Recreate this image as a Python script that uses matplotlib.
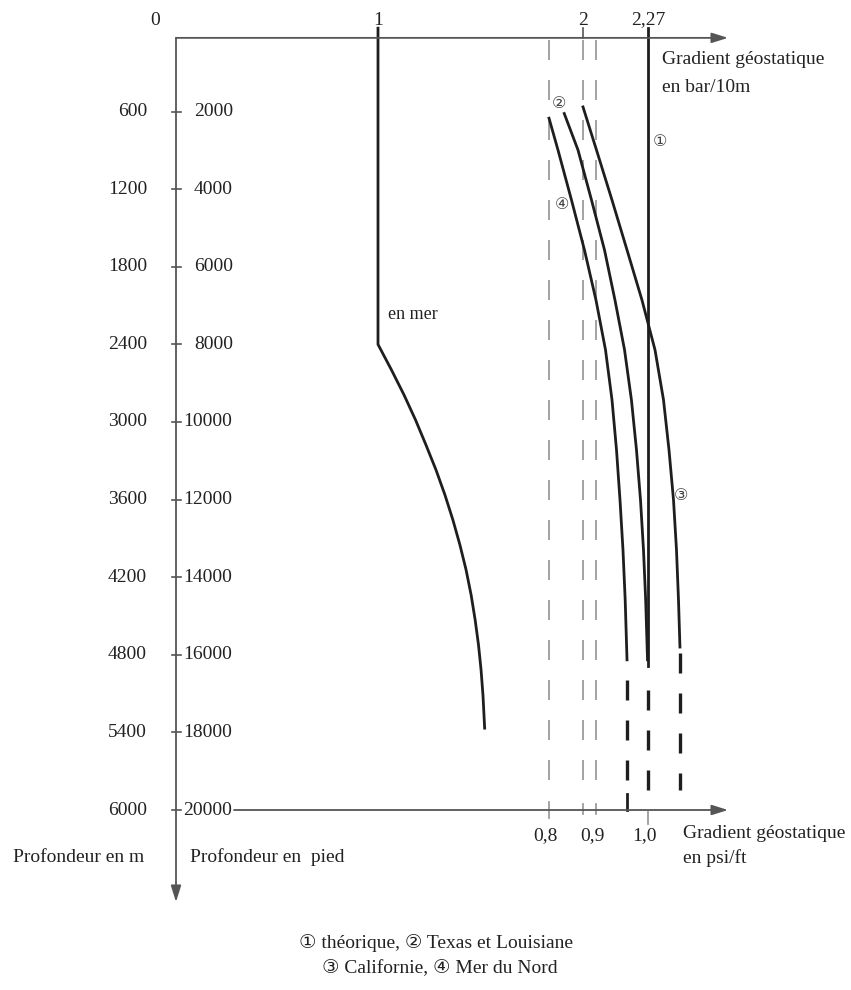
import numpy as np
import matplotlib
matplotlib.use('Agg')
import matplotlib.pyplot as plt

plt.rcParams['font.family'] = ['Liberation Serif', 'DejaVu Sans']
plt.rcParams['lines.scale_dashes'] = False

# ---------------- data ----------------
PSI_TO_BAR = 2.2621  # 1 psi/ft in bar/10m

depth_ft_ticks = [2000, 4000, 6000, 8000, 10000, 12000, 14000, 16000, 18000, 20000]
depth_m_labels = ['600', '1200', '1800', '2400', '3000', '3600', '4200', '4800', '5400', '6000']

top_ticks_bar = [0, 1, 2, 2.262]
top_tick_labels = ['0', '1', '2', '2,27']

bottom_ticks_psi = [0.8, 0.9, 1.0]
bottom_tick_labels = ['0,8', '0,9', '1,0']

# "en mer" curve (bar/10m vs depth ft)
enmer_bar = [1.0, 1.0, 1.064, 1.123, 1.178, 1.227, 1.275, 1.317, 1.355, 1.388,
             1.417, 1.441, 1.460, 1.476, 1.488, 1.497, 1.505]
enmer_ft = [-150, 8000, 8660, 9300, 9950, 10590, 11240, 11880, 12530, 13170,
            13810, 14460, 15100, 15750, 16390, 17040, 17890]

# (1) théorique
theo_bar = [2.262, 2.262]
theo_ft = [-150, 16300]

# (2) Texas et Louisiane
texas_bar = [1.895, 1.972, 2.0235, 2.073, 2.1185, 2.160, 2.190, 2.212, 2.2295, 2.2425, 2.252, 2.260]
texas_ft = [2050, 2990, 4280, 5570, 6860, 8140, 9430, 10720, 12010, 13300, 14590, 16130]

# (3) Californie
calif_bar = [2.0, 2.038, 2.1055, 2.171, 2.236, 2.2925, 2.3295, 2.3534, 2.373, 2.386, 2.3947, 2.401]
calif_ft = [1880, 2990, 4280, 5570, 6860, 8140, 9430, 10720, 12010, 13300, 14590, 15800]

# (4) Mer du Nord
nord_bar = [1.8097, 1.860, 1.9356, 2.0041, 2.0359, 2.0772, 2.1055, 2.1251, 2.1403, 2.1533, 2.1629, 2.1708]
nord_ft = [2170, 2990, 4280, 5570, 6860, 8140, 9430, 10720, 12010, 13300, 14590, 16130]

# dashed extrapolations below 16000 ft
ext_bar = [2.1708, 2.262, 2.401]
ext_start_ft = [16650, 16900, 15950]
ext_end_ft = [19300, 19480, 19480]

# light reference dashed lines
ref_bar = [0.8 * PSI_TO_BAR, 2.0, 0.9 * PSI_TO_BAR]

# ---------------- schematic x scale (piecewise linear) ----------------
bar_knots = np.array([-5.0, 0.0, 1.0, 0.8 * PSI_TO_BAR, 2.0, 0.9 * PSI_TO_BAR, 1.0 * PSI_TO_BAR, 6.0])
px_knots = np.array([176 - 5 * 202, 176, 378, 549, 583, 596, 648, 648 + (6.0 - PSI_TO_BAR) * 230])


def fwd(x):
    return np.interp(x, bar_knots, px_knots)


def inv(p):
    return np.interp(p, px_knots, bar_knots)


W, H = 851, 990
fig = plt.figure(figsize=(W / 100, H / 100), dpi=100)
ax = fig.add_axes([0, 0, 1, 1])
ax.set_xscale('function', functions=(fwd, inv))
ax.set_xlim(inv(0), inv(W))
ax.set_ylim(24639, -876)
ax.axis('off')

axis_col = '#555555'
curve_col = '#1e1e1e'
grey_col = '#9c9c9c'
txt_col = '#222222'
fs = 14

arrow_kw = dict(arrowstyle='-|>,head_length=0.7,head_width=0.22', color=axis_col,
                lw=1.3, shrinkA=0, shrinkB=0, mutation_scale=14)

# axes
x_end = inv(728)
ax.annotate('', xy=(0, 22370), xytext=(0, 100), arrowprops=arrow_kw)
ax.annotate('', xy=(x_end, 100), xytext=(0, 100), arrowprops=arrow_kw)
ax.annotate('', xy=(x_end, 20000), xytext=(inv(234), 20000), arrowprops=arrow_kw)

# depth ticks and labels
for ft, ml in zip(depth_ft_ticks, depth_m_labels):
    ax.plot([inv(172), inv(181)], [ft, ft], color=axis_col, lw=1.2)
    lab = f'{ft}'
    xl = inv(194) if len(lab) == 4 else inv(183)
    ax.text(xl, ft, lab, ha='left', va='center', fontsize=fs, color=txt_col)
    ax.text(inv(147), ft, ml, ha='right', va='center', fontsize=fs, color=txt_col)

# top ticks
for b, lab in zip(top_ticks_bar, top_tick_labels):
    xpos = b if b > 0 else inv(155)
    ax.text(xpos, -360, lab, ha='center', va='center', fontsize=fs, color=txt_col)
ax.plot([2.0, 2.0], [-150, 100], color=axis_col, lw=1.2)

# reference grey dashed lines
for b in ref_bar:
    ax.plot([b, b], [155, 19742], color=grey_col, lw=1.3, linestyle=(0, (14.4, 14.4)))

# bottom ticks
for b, lab in zip(bottom_ticks_psi, bottom_tick_labels):
    xb = b * PSI_TO_BAR
    ax.text(inv(fwd(xb) - 4), 20650, lab, ha='center', va='center', fontsize=fs, color=txt_col)
ax.plot([0.8 * PSI_TO_BAR] * 2, [19800, 20200], color=grey_col, lw=1.3)
ax.plot([2.0] * 2, [19850, 20100], color=grey_col, lw=1.3)
ax.plot([0.9 * PSI_TO_BAR] * 2, [19850, 20100], color=grey_col, lw=1.3)
ax.plot([2.1708] * 2, [19600, 20000], color=curve_col, lw=2.0)
ax.plot([PSI_TO_BAR] * 2, [20050, 20350], color=grey_col, lw=1.3)

# curves
lw = 2.0
ax.plot(enmer_bar, enmer_ft, color=curve_col, lw=lw)
ax.plot(theo_bar, theo_ft, color=curve_col, lw=lw)
ax.plot(texas_bar, texas_ft, color=curve_col, lw=lw)
ax.plot(calif_bar, calif_ft, color=curve_col, lw=lw)
ax.plot(nord_bar, nord_ft, color=curve_col, lw=lw)
for b, s, e in zip(ext_bar, ext_start_ft, ext_end_ft):
    ax.plot([b, b], [s, e], color=curve_col, lw=2.4, linestyle=(0, (14.4, 14.4)))

# curve labels
circ_fs = 11.5
ck = dict(ha='center', va='center', fontsize=circ_fs, color='#444444', family='DejaVu Sans')
ax.text(inv(660), 2780, '①', **ck)
ax.text(inv(559), 1800, '②', **ck)
ax.text(inv(681), 11900, '③', **ck)
ax.text(inv(562), 4400, '④', **ck)
ax.text(inv(388), 7240, 'en mer', ha='left', va='center', fontsize=fs - 1, color=txt_col)


def ftxt(x, y, s, **kw):
    kw.setdefault('fontsize', fs)
    kw.setdefault('color', txt_col)
    fig.text(x / W, 1 - y / H, s, **kw)


ftxt(662, 60, 'Gradient géostatique', ha='left', va='center')
ftxt(662, 87, 'en bar/10m', ha='left', va='center')
ftxt(683, 834, 'Gradient géostatique', ha='left', va='center')
ftxt(683, 858, 'en psi/ft', ha='left', va='center')
ftxt(13, 857, 'Profondeur en m', ha='left', va='center')
ftxt(190, 857, 'Profondeur en  pied', ha='left', va='center')
ftxt(436, 943, '① théorique, ② Texas et Louisiane', ha='center', va='center')
ftxt(440, 968, '③ Californie, ④ Mer du Nord', ha='center', va='center')

fig.savefig('out.png', dpi=100, facecolor='white')
